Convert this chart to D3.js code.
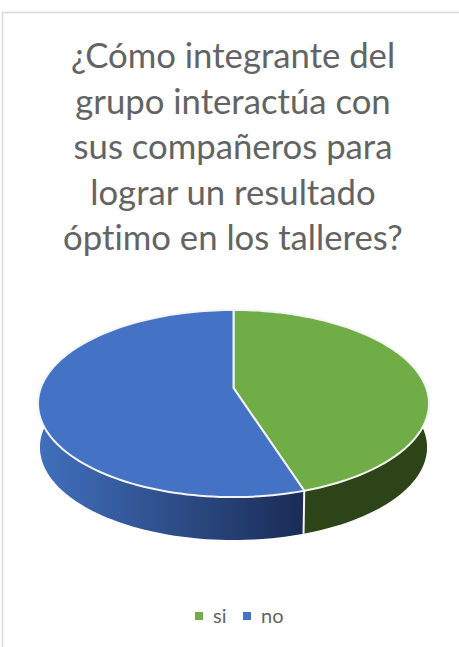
<!DOCTYPE html>
<html><head><meta charset="utf-8">
<script src="https://cdn.jsdelivr.net/npm/d3@7"></script>
<style>html,body{margin:0;padding:0;background:#fff}svg{display:block}text{font-variant-ligatures:none}</style>
</head><body><div id="c"></div>
<script>
const categories = ["si","no"];
const seriesValues = [45,55];
const topColors = ["#70ad47","#4472c4"];
const titleLines = ["¿Cómo integrante del","grupo interactúa con","sus compañeros para","lograr un resultado","óptimo en los talleres?"];

const W=459,H=647;
const svg=d3.select("#c").append("svg").attr("width",W).attr("height",H);
const defs=svg.append("defs");
const blueGrad=defs.append("linearGradient").attr("id","blueSide").attr("gradientUnits","userSpaceOnUse").attr("x1",38).attr("x2",303).attr("y1",0).attr("y2",0);
blueGrad.append("stop").attr("offset",0).attr("stop-color","#4170bd");
blueGrad.append("stop").attr("offset",1).attr("stop-color","#1a2c56");
const sideFill=["#2d4419","url(#blueSide)"];

svg.append("path").attr("d","M2.5,647V12.5H459").attr("fill","none").attr("stroke","#d9d9d9").attr("stroke-width",1.5);

svg.append("g").selectAll("text").data(titleLines).join("text")
 .attr("x",233).attr("y",(d,i)=>68+i*45.6).attr("text-anchor","middle")
 .attr("font-family","Lato").attr("font-weight",400).attr("font-size",34.7).attr("fill","#636363").text(d=>d);

const pie=d3.pie().sort(null).value(d=>d);
const arcs=pie(seriesValues);
const cx=233.5,hubY=388,k=0.166,sx=192.8,sy=91,depth=44,shrink=0.99;
function project(a,bottom){
  const x=Math.sin(a),z=-Math.cos(a),w=1-k*z;
  const s=bottom?shrink:1;
  return [cx+s*sx*x/w, hubY+s*sy*z/w+(bottom?depth:0)];
}
const line=d3.line();
const stepsFor=d=>d3.range(0,1.0001,1/120).map(t=>d.startAngle+t*(d.endAngle-d.startAngle));

// sides first: the top faces cover the hidden parts
svg.append("g").selectAll("path").data(arcs).join("path")
 .attr("d",d=>{const as=stepsFor(d);
   return line(as.map(a=>project(a,false)).concat(as.slice().reverse().map(a=>project(a,true))))+"Z";})
 .attr("fill",(d,i)=>sideFill[i]);

// front edge between the two sides
const edgeA=arcs[0].endAngle;
svg.append("path").attr("d",line([project(edgeA,false),project(edgeA,true)]))
 .attr("stroke","#f4f4f4").attr("stroke-width",2).attr("fill","none");

svg.append("g").selectAll("path").data(arcs).join("path")
 .attr("d",d=>line([[cx,hubY]].concat(stepsFor(d).map(a=>project(a,false))))+"Z")
 .attr("fill",(d,i)=>topColors[i]).attr("stroke","#f4f4f4").attr("stroke-width",2).attr("stroke-linejoin","round");

const legendX=d3.scaleOrdinal().domain(categories).range([196,244]);
const lg=svg.append("g").selectAll("g").data(categories).join("g");
lg.append("rect").attr("x",d=>legendX(d)-1).attr("y",612).attr("width",8).attr("height",8).attr("fill",(d,i)=>topColors[i]);
lg.append("text").attr("x",d=>legendX(d)+17).attr("y",623).attr("font-family","Lato").attr("font-weight",400).attr("font-size",20).attr("fill","#636363").text(d=>d);
</script></body></html>
